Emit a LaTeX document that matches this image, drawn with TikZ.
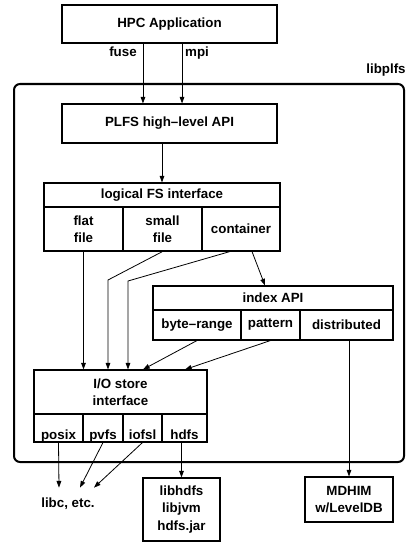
\documentclass[tikz,border=0pt]{standalone}
\usepackage{fontspec}
\setmainfont{Liberation Sans}
\usetikzlibrary{arrows.meta}
\tikzset{
  box/.style={draw, line width=0.8pt, inner sep=0pt, align=center},
  arr/.style={-{Triangle[length=5pt,width=3.5pt]}, line width=0.6pt},
  iocell/.style={box, minimum height=21pt, text height=16.5pt, text depth=0pt}
}
\begin{document}
\begin{tikzpicture}[x=0.75pt, y=-0.75pt, font={\fontsize{10}{13}\selectfont\bfseries}]
  \useasboundingbox (0,0) rectangle (406,542);
  \draw[line width=1.5pt, rounded corners=4.5pt] (14,84) rectangle (404,462);
  \node[anchor=base] (lib) at (386,74) {libplfs};
  \node[box, minimum width=161.25pt, minimum height=28.5pt] (app) at (169.5,24) {HPC Application};
  \node[box, minimum width=161.25pt, minimum height=29.25pt] (plfs) at (169.5,123.5) {PLFS high--level API};
  \node[anchor=base] (fuse) at (123,57) {fuse};
  \node[anchor=base] (mpi) at (197,57) {mpi};
  \node[box, minimum width=177pt, minimum height=18pt] (lfs) at (162,195) {logical FS interface};
  \node[box, minimum width=59.25pt, minimum height=33pt] (flat) at (83.5,229) {flat\\file};
  \node[box, minimum width=59.25pt, minimum height=33pt] (small) at (162.5,229) {small\\file};
  \node[box, minimum width=58.5pt, minimum height=33pt] (cont) at (241,229) {container};
  \node[box, minimum width=180pt, minimum height=18pt] (idx) at (273,298) {index API};
  \node[box, minimum width=66pt, minimum height=22.5pt] (byte) at (197,325) {byte--range};
  \node[box, minimum width=44.25pt, minimum height=22.5pt] (pat) at (270.5,325) {pattern};
  \node[box, minimum width=69.75pt, minimum height=22.5pt] (dist) at (346.5,325) {distributed};
  \node[box, minimum width=129.75pt, minimum height=33pt] (io) at (120.5,392) {I/O store\\interface};
  \node[iocell, minimum width=36.75pt] (posix) at (58.5,428) {posix};
  \node[iocell, minimum width=30pt] (pvfs) at (103,428) {pvfs};
  \node[iocell, minimum width=29.25pt] (iofsl) at (142.5,428) {iofsl};
  \node[iocell, minimum width=33.75pt] (hdfs) at (184.5,428) {hdfs};
  \node[anchor=base] (libc) at (68,507) {libc, etc.};
  \node[box, minimum width=57.75pt, minimum height=47.25pt] (libh) at (181.5,509.5) {libhdfs\\libjvm\\hdfs.jar};
  \node[box, minimum width=66pt, minimum height=33.75pt] (mdhim) at (349,499.5) {MDHIM\\w/LevelDB};
  \coordinate (sb) at (108,280);
  \coordinate (cb) at (128,281);
  \draw[arr] ([xshift=-19.9pt]app.south) -- ([xshift=-19.9pt]plfs.north);
  \draw[arr] ([xshift=9.4pt]app.south) -- ([xshift=9.4pt]plfs.north);
  \draw[arr] (lfs.north |- plfs.south) -- (lfs.north);
  \draw[arr] (flat.south) -- (flat.south |- io.north);
  \draw[arr] (small.south) -- (sb) -- (sb |- io.north);
  \draw[arr] ([xshift=-8.25pt]cont.south) -- (cb) -- (cb |- io.north);
  \draw[arr] ([xshift=8.25pt]cont.south) -- ([xshift=-6pt]idx.north);
  \draw[arr] (byte.south) -- ([xshift=16.9pt]io.north);
  \draw[arr] (pat.south) -- ([xshift=48.4pt]io.north);
  \draw[arr] (mdhim.north |- dist.south) -- (mdhim.north);
  \draw[arr] (posix.south) -- ([xshift=-6.75pt,yshift=3.75pt]libc.north);
  \draw[arr] (pvfs.south) -- ([xshift=9pt,yshift=3.75pt]libc.north);
  \draw[arr] (iofsl.south) -- ([xshift=19.5pt,yshift=3.75pt]libc.north);
  \draw[arr] (libh.north |- hdfs.south) -- (libh.north);
\end{tikzpicture}
\end{document}
